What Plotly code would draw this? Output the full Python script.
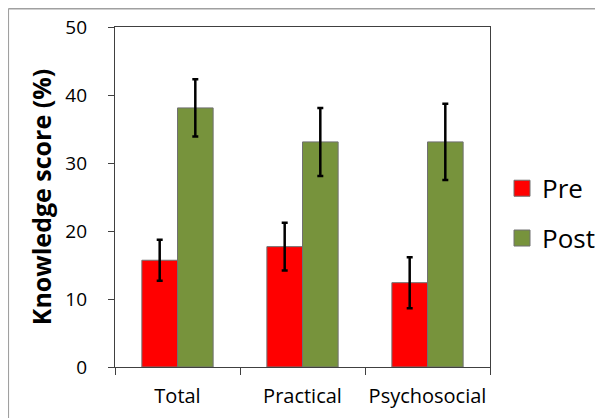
import plotly.graph_objects as go

categories = ["Total", "Practical", "Psychosocial"]
pre_values = [15.7, 17.7, 12.4]
pre_errors = [3.0, 3.5, 3.75]
post_values = [38.1, 33.1, 33.1]
post_errors = [4.2, 5.0, 5.6]
y_ticks = [0, 10, 20, 30, 40, 50]

FONT = "Open Sans"
RED = "#FF0000"
GREEN = "#77933C"
OUTLINE = "#707070"
AXIS = "#404040"

fig = go.Figure()
fig.add_trace(go.Bar(
    x=categories, y=pre_values, name="Pre", showlegend=False,
    marker=dict(color=RED, line=dict(color=OUTLINE, width=1)),
    error_y=dict(type="data", array=pre_errors, color="black", thickness=2.5, width=3),
))
fig.add_trace(go.Bar(
    x=categories, y=post_values, name="Post", showlegend=False,
    marker=dict(color=GREEN, line=dict(color=OUTLINE, width=1)),
    error_y=dict(type="data", array=post_errors, color="black", thickness=2.5, width=3),
))
# legend entries with larger square swatches
for name, col in [("Pre", RED), ("Post", GREEN)]:
    fig.add_trace(go.Scatter(
        x=[None], y=[None], mode="markers", name=name, legendgroup=name,
        marker=dict(symbol="square", size=16, color=col, line=dict(color=OUTLINE, width=1)),
    ))

# the page body has an 8px margin, so the figure is sized to the visible area
fig.update_layout(
    width=595, height=410,
    margin=dict(l=107, r=113, t=19, b=50.5, autoexpand=False),
    plot_bgcolor="white", paper_bgcolor="white",
    barmode="group", bargap=0.43, bargroupgap=0,
    font=dict(family=FONT, color="black"),
    showlegend=True,
    legend=dict(x=1.032, y=0.452, xanchor="left", yanchor="middle",
                font=dict(size=26, family=FONT), tracegroupgap=13,
                itemwidth=30, itemsizing="trace", bgcolor="rgba(0,0,0,0)"),
    xaxis=dict(
        type="category", tickson="boundaries", ticks="outside", ticklen=7,
        tickcolor=AXIS, showline=True, linecolor=AXIS, linewidth=1.3,
        mirror=True, showgrid=False, tickfont=dict(size=20, family=FONT),
        tickangle=0, ticklabelstandoff=11, automargin=False,
    ),
    yaxis=dict(
        range=[0, 50], tickvals=y_ticks, ticks="outside", ticklen=6,
        tickcolor=AXIS, showline=True, linecolor=AXIS, linewidth=1.3,
        mirror=True, showgrid=False, zeroline=False, automargin=False,
        tickfont=dict(size=19, family=FONT), ticklabelstandoff=17,
        title=dict(text="<b>Knowledge score (%)</b>", font=dict(size=25, family=FONT), standoff=6),
    ),
    shapes=[
        dict(type="line", xref="paper", yref="paper", x0=-0.2845, x1=-0.2845,
             y0=1.0534, y1=-0.2, line=dict(color="#A0A0A0", width=1.5), layer="below"),
        dict(type="line", xref="paper", yref="paper", x0=-0.2845, x1=1.4,
             y0=1.0534, y1=1.0534, line=dict(color="#A0A0A0", width=1.5), layer="below"),
    ],
)

fig.write_html("out.html")
